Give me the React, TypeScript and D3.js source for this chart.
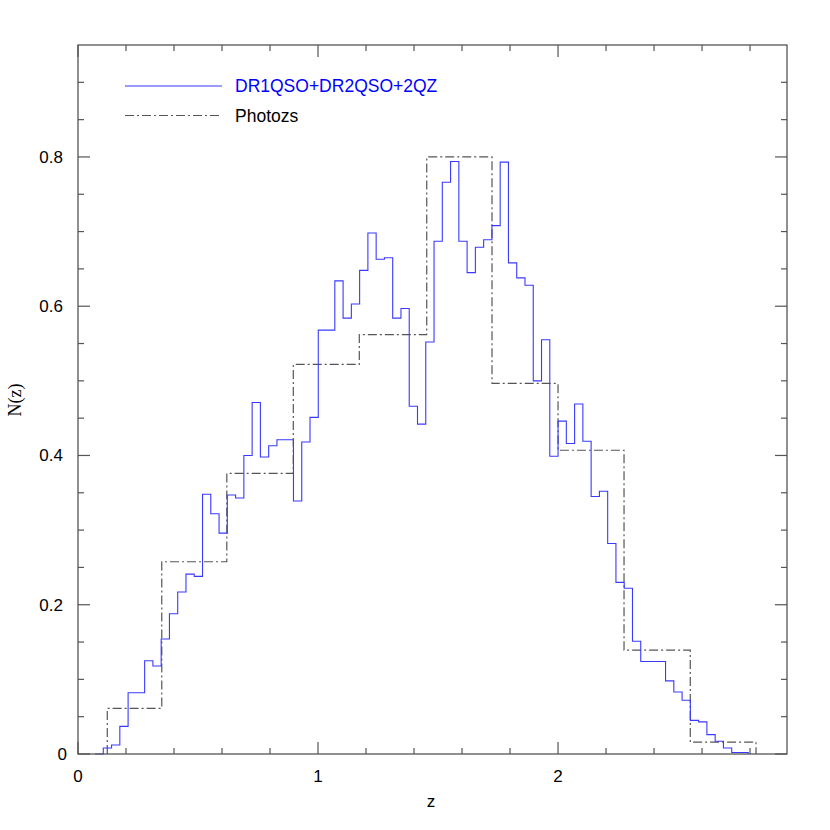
import React from "react";
import * as d3 from "d3";

// Spectroscopic histogram (DR1QSO+DR2QSO+2QZ): regular bins
const specBinStart = 0.1054;
const specBinWidth = 0.03445;
const specValues = [
  0.008, 0.012, 0.037, 0.082, 0.082, 0.125, 0.118, 0.154, 0.188, 0.217,
  0.241, 0.238, 0.348, 0.322, 0.296, 0.347, 0.343, 0.400, 0.471, 0.398,
  0.413, 0.421, 0.421, 0.339, 0.418, 0.451, 0.568, 0.568, 0.634, 0.584,
  0.603, 0.648, 0.698, 0.663, 0.665, 0.584, 0.597, 0.466, 0.442, 0.552,
  0.687, 0.766, 0.794, 0.687, 0.645, 0.679, 0.689, 0.708, 0.793, 0.658,
  0.638, 0.628, 0.500, 0.555, 0.399, 0.446, 0.416, 0.469, 0.419, 0.345,
  0.352, 0.282, 0.230, 0.222, 0.151, 0.124, 0.124, 0.124, 0.098, 0.083,
  0.072, 0.045, 0.043, 0.026, 0.017, 0.008, 0.002, 0.002,
];

// Photo-z histogram: bin edges and values
const photoEdges = [0.122, 0.349, 0.62, 0.897, 1.172, 1.453, 1.725, 2.0, 2.275, 2.551, 2.825];
const photoValues = [0.0612, 0.2576, 0.376, 0.522, 0.562, 0.8, 0.4965, 0.407, 0.1393, 0.016];

const xMajorTicks = [0, 1, 2];
const xMinorTicks = [0.2, 0.4, 0.6, 0.8, 1.2, 1.4, 1.6, 1.8, 2.2, 2.4, 2.6, 2.8];
const yMajorTicks = [0, 0.2, 0.4, 0.6, 0.8];
const yTickLabels = ["0", "0.2", "0.4", "0.6", "0.8"];
const yMinorTicks = [0.05, 0.1, 0.15, 0.25, 0.3, 0.35, 0.45, 0.5, 0.55, 0.65, 0.7, 0.75, 0.85, 0.9];

const legendLabels = ["DR1QSO+DR2QSO+2QZ", "Photozs"];

const W = 830;
const H = 830;
const L = 78;
const R = 787;
const T = 45;
const B = 754;

export default function App() {
  const x = d3.scaleLinear().domain([0, 2.954]).range([L, R]);
  const y = d3.scaleLinear().domain([0, 0.95]).range([B, T]);

  const line = d3
    .line<[number, number]>()
    .x((d) => x(d[0]))
    .y((d) => y(d[1]))
    .curve(d3.curveStepAfter);

  const specPts: [number, number][] = [[specBinStart - specBinWidth, 0]];
  specValues.forEach((v, i) => specPts.push([specBinStart + i * specBinWidth, v]));
  specPts.push([specBinStart + specValues.length * specBinWidth, 0]);

  const photoPts: [number, number][] = [[photoEdges[0], 0]];
  photoValues.forEach((v, i) => photoPts.push([photoEdges[i], v]));
  photoPts.push([photoEdges[photoEdges.length - 1], 0]);

  const axisColor = "#555";
  const font = "Liberation Sans, Arial, sans-serif";
  const blue = "#3a3aff";
  const dash = "#555";

  return (
    <svg
      width={W}
      height={H}
      style={{ position: "absolute", left: 0, top: 0, background: "#fff" }}
    >
      <rect x={0} y={0} width={W} height={H} fill="#fff" />
      {/* histograms */}
      <path d={line(photoPts) || ""} fill="none" stroke={dash} strokeWidth={1.2} strokeDasharray="9 3 2 3" />
      <path d={line(specPts) || ""} fill="none" stroke={blue} strokeWidth={1.1} />

      {/* frame */}
      <rect x={L} y={T} width={R - L} height={B - T} fill="none" stroke={axisColor} strokeWidth={1.3} />

      {/* x ticks */}
      {xMajorTicks.map((t) => (
        <g key={"xM" + t}>
          <line x1={x(t)} x2={x(t)} y1={B} y2={B - 12} stroke={axisColor} strokeWidth={1.2} />
          <line x1={x(t)} x2={x(t)} y1={T} y2={T + 12} stroke={axisColor} strokeWidth={1.2} />
          <text x={x(t)} y={782} textAnchor="middle" fontFamily={font} fontSize={17} fill="#000">
            {t}
          </text>
        </g>
      ))}
      {xMinorTicks.map((t) => (
        <g key={"xm" + t}>
          <line x1={x(t)} x2={x(t)} y1={B} y2={B - 6} stroke={axisColor} strokeWidth={1.2} />
          <line x1={x(t)} x2={x(t)} y1={T} y2={T + 6} stroke={axisColor} strokeWidth={1.2} />
        </g>
      ))}

      {/* y ticks */}
      {yMajorTicks.map((t, i) => (
        <g key={"yM" + t}>
          <line x1={L} x2={L + 12} y1={y(t)} y2={y(t)} stroke={axisColor} strokeWidth={1.2} />
          <line x1={R} x2={R - 12} y1={y(t)} y2={y(t)} stroke={axisColor} strokeWidth={1.2} />
          <text
            x={t === 0 ? 67 : 63}
            y={y(t) + 6}
            textAnchor="end"
            fontFamily={font}
            fontSize={17}
            fill="#000"
          >
            {yTickLabels[i]}
          </text>
        </g>
      ))}
      {yMinorTicks.map((t) => (
        <g key={"ym" + t}>
          <line x1={L} x2={L + 6} y1={y(t)} y2={y(t)} stroke={axisColor} strokeWidth={1.2} />
          <line x1={R} x2={R - 6} y1={y(t)} y2={y(t)} stroke={axisColor} strokeWidth={1.2} />
        </g>
      ))}

      {/* axis titles */}
      <text x={431} y={807} textAnchor="middle" fontFamily={font} fontSize={17} fill="#000">
        z
      </text>
      <text
        transform="translate(21,400) rotate(-90)"
        textAnchor="middle"
        fontFamily="Liberation Serif, Times New Roman, serif"
        fontSize={18}
        fill="#000"
      >
        N(z)
      </text>

      {/* legend */}
      <line x1={125} x2={222} y1={86} y2={86} stroke="#7777ff" strokeWidth={1.3} />
      <text x={235} y={92} fontFamily={font} fontSize={17.5} fill="#0000ff">
        {legendLabels[0]}
      </text>
      <line x1={125} x2={222} y1={115.5} y2={115.5} stroke={dash} strokeWidth={1.2} strokeDasharray="9 3 2 3" />
      <text x={235} y={121.5} fontFamily={font} fontSize={17.5} fill="#000">
        {legendLabels[1]}
      </text>
    </svg>
  );
}
